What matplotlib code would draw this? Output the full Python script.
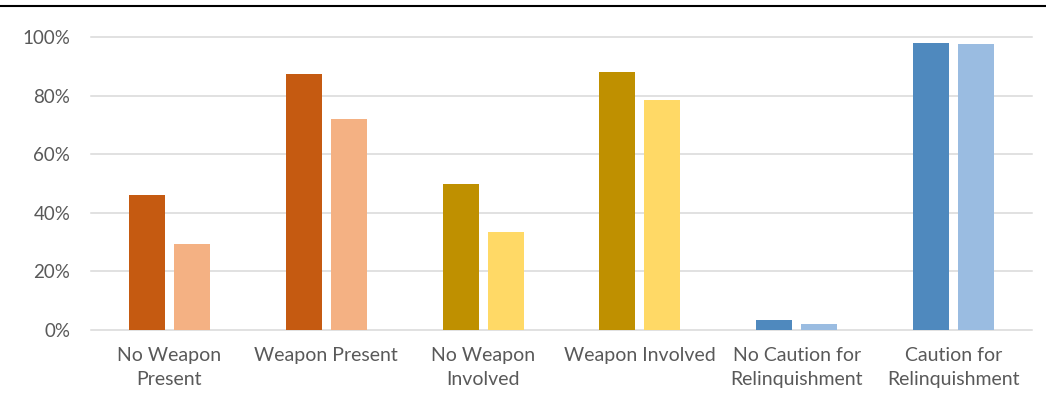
import numpy as np
import matplotlib
matplotlib.use("Agg")
import matplotlib.pyplot as plt
from matplotlib.lines import Line2D

# Categories and the two series for each pair
categories = ["No Weapon\nPresent", "Weapon Present", "No Weapon\nInvolved",
              "Weapon Involved", "No Caution for\nRelinquishment", "Caution for\nRelinquishment"]
darkValues = [0.46, 0.875, 0.50, 0.88, 0.033, 0.978]
lightValues = [0.295, 0.72, 0.335, 0.785, 0.02, 0.975]

# Colours per category (dark, light)
darkColors = ["#C55A11", "#C55A11", "#BF9000", "#BF9000", "#4F89BE", "#4F89BE"]
lightColors = ["#F4B183", "#F4B183", "#FFD966", "#FFD966", "#9ABCE1", "#9ABCE1"]

plt.rcParams["font.family"] = ["Lato", "DejaVu Sans"]

fig = plt.figure(figsize=(10.46, 3.98), dpi=100)
ax = fig.add_axes([91 / 1046, 68 / 398, (1032 - 91) / 1046, (330 - 37) / 398])

x = np.arange(len(categories))
barWidth = 0.23
gap = 0.057

# Gridlines
for tick in np.arange(0, 1.01, 0.2):
    ax.axhline(tick, color="#D9D9D9", linewidth=1.1, zorder=0, clip_on=False)

ax.bar(x - (barWidth + gap) / 2, darkValues, barWidth, color=darkColors, zorder=2)
ax.bar(x + (barWidth + gap) / 2, lightValues, barWidth, color=lightColors, zorder=2)

ax.set_xlim(-0.5, len(categories) - 0.5)
ax.set_ylim(0, 1.0)
ax.set_yticks(np.arange(0, 1.01, 0.2))
ax.set_yticklabels(["0%", "20%", "40%", "60%", "80%", "100%"])
ax.set_xticks(x)
ax.set_xticklabels(categories, linespacing=1.5)

ax.tick_params(axis="y", length=0, pad=15, labelsize=13.5, labelcolor="#595959")
ax.tick_params(axis="x", length=0, pad=12, labelsize=14, labelcolor="#595959")

for spine in ax.spines.values():
    spine.set_visible(False)

# Black rule across the top of the figure
fig.add_artist(Line2D([0, 1], [1 - 5.5 / 398, 1 - 5.5 / 398], color="black", linewidth=1.5,
                      transform=fig.transFigure))

fig.savefig("out.png", dpi=100)
